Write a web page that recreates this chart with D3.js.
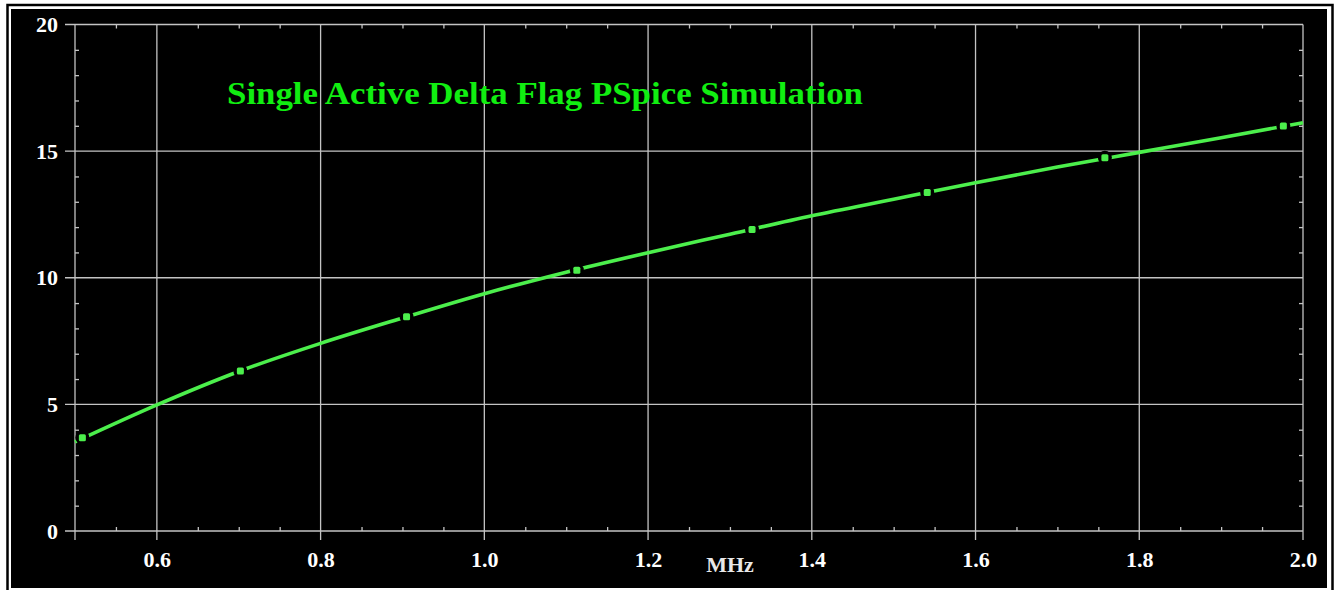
<!DOCTYPE html>
<html>
<head>
<meta charset="utf-8">
<script src="https://cdn.jsdelivr.net/npm/d3@7"></script>
<style>
  body { margin: 0; background: #ffffff; }
  svg text { font-family: "Liberation Serif", "Times New Roman", serif; font-weight: bold; }
</style>
</head>
<body>
<div id="vis1"></div>
<script>
// values
const FREQ_MHZ = [0.5, 0.6, 0.7, 0.8, 0.9, 1.0, 1.1, 1.2, 1.3, 1.4, 1.5, 1.6, 1.7, 1.8, 1.9, 2.0];
const RESPONSE = [3.52, 4.98, 6.30, 7.41, 8.41, 9.37, 10.22, 10.99, 11.72, 12.45, 13.10, 13.75, 14.37, 14.95, 15.53, 16.12];

// plot symbols along the trace
const MARKER_FREQ = [0.509, 0.702, 0.905, 1.113, 1.327, 1.541, 1.758, 1.976];
const MARKER_VAL = [3.68, 6.32, 8.46, 10.30, 11.91, 13.37, 14.74, 15.99];

const X_TICKS = [0.6, 0.8, 1.0, 1.2, 1.4, 1.6, 1.8, 2.0];
const X_TICK_LABELS = ["0.6", "0.8", "1.0", "1.2", "1.4", "1.6", "1.8", "2.0"];
const X_MINOR = d3.range(0.55, 2.0, 0.05).filter(v => Math.abs(v * 5 - Math.round(v * 5)) > 0.01);
const Y_TICKS = [0, 5, 10, 15, 20];
const Y_TICK_LABELS = ["0", "5", "10", "15", "20"];
const Y_MINOR = d3.range(1, 20, 1).filter(v => v % 5 !== 0);

const TITLE = "Single Active Delta Flag PSpice Simulation";
const X_LABEL = "MHz";

const FRAME_WIDTH = 1334;
const FRAME_HEIGHT = 590;
const PLOT = {left: 75, right: 1303, top: 24.5, bottom: 531};
const GRID = "#c4c4c4";
const TRACE = "#4cef4c";

const FRAME1 = d3.select("#vis1")
  .append("svg")
    .attr("width", FRAME_WIDTH)
    .attr("height", FRAME_HEIGHT);

// screenshot border + black panel
FRAME1.append("rect")
  .attr("x", 7.5).attr("y", 5)
  .attr("width", 1325).attr("height", 600)
  .attr("fill", "none").attr("stroke", "#000").attr("stroke-width", 2.5);
FRAME1.append("rect")
  .attr("x", 11).attr("y", 9)
  .attr("width", 1316).attr("height", 579)
  .attr("fill", "#000");

const X_SCALE = d3.scaleLinear().domain([0.5, 2.0]).range([PLOT.left, PLOT.right]);
const Y_SCALE = d3.scaleLinear().domain([0, 20]).range([PLOT.bottom, PLOT.top]);

// grid lines (they poke out past the bottom/left borders)
FRAME1.append("g").selectAll("line")
  .data([0.5].concat(X_TICKS))
  .enter().append("line")
    .attr("x1", d => X_SCALE(d)).attr("x2", d => X_SCALE(d))
    .attr("y1", PLOT.top).attr("y2", PLOT.bottom + 9)
    .attr("stroke", GRID).attr("stroke-width", 1.3);

FRAME1.append("g").selectAll("line")
  .data(Y_TICKS)
  .enter().append("line")
    .attr("x1", PLOT.left - 10).attr("x2", PLOT.right)
    .attr("y1", d => Y_SCALE(d)).attr("y2", d => Y_SCALE(d))
    .attr("stroke", GRID).attr("stroke-width", 1.3);

// minor ticks, all pointing inwards
function minor(axis, tx, ty) {
  const g = FRAME1.append("g")
    .attr("transform", "translate(" + tx + "," + ty + ")")
    .call(axis.tickSize(4).tickFormat(""));
  g.select(".domain").remove();
  g.selectAll(".tick line").attr("stroke", GRID).attr("stroke-width", 1.3);
}
minor(d3.axisTop(X_SCALE).tickValues(X_MINOR), 0, PLOT.bottom);
minor(d3.axisBottom(X_SCALE).tickValues(X_MINOR), 0, PLOT.top);
minor(d3.axisRight(Y_SCALE).tickValues(Y_MINOR), PLOT.left, 0);
minor(d3.axisLeft(Y_SCALE).tickValues(Y_MINOR), PLOT.right, 0);

// tick labels
const xAxis = FRAME1.append("g")
  .attr("transform", "translate(0," + PLOT.bottom + ")")
  .call(d3.axisBottom(X_SCALE).tickValues(X_TICKS).tickSize(0).tickPadding(20)
        .tickFormat((d, i) => X_TICK_LABELS[i]));
xAxis.select(".domain").remove();
xAxis.selectAll("text")
  .attr("fill", "#fff").attr("font-size", "22px")
  .style("font-family", "Liberation Serif").style("font-weight", "bold");

const yAxis = FRAME1.append("g")
  .attr("transform", "translate(" + (PLOT.left - 17) + ",0)")
  .call(d3.axisLeft(Y_SCALE).tickValues(Y_TICKS).tickSize(0).tickPadding(0)
        .tickFormat((d, i) => Y_TICK_LABELS[i]));
yAxis.select(".domain").remove();
yAxis.selectAll("text")
  .attr("fill", "#fff").attr("font-size", "22px")
  .style("font-family", "Liberation Serif").style("font-weight", "bold");

FRAME1.append("text")
  .attr("x", 730).attr("y", 572)
  .attr("text-anchor", "middle")
  .attr("fill", "#e8e8e8").attr("font-size", "22px")
  .text(X_LABEL);

// the trace
const line = d3.line()
  .x((d, i) => X_SCALE(FREQ_MHZ[i]))
  .y(d => Y_SCALE(d))
  .curve(d3.curveMonotoneX);

FRAME1.append("path")
  .datum(RESPONSE)
  .attr("d", line)
  .attr("fill", "none")
  .attr("stroke", TRACE)
  .attr("stroke-width", 3.6);

// small gap in the trace round each symbol, then the symbol
FRAME1.append("g").selectAll("circle")
  .data(MARKER_VAL)
  .enter().append("circle")
    .attr("cx", (d, i) => X_SCALE(MARKER_FREQ[i]))
    .attr("cy", d => Y_SCALE(d))
    .attr("r", 7)
    .attr("fill", "#000");

FRAME1.append("g").selectAll("rect")
  .data(MARKER_VAL)
  .enter().append("rect")
    .attr("x", (d, i) => X_SCALE(MARKER_FREQ[i]) - 3.5)
    .attr("y", d => Y_SCALE(d) - 3.5)
    .attr("width", 7).attr("height", 7)
    .attr("rx", 1.5)
    .attr("fill", TRACE);

FRAME1.append("text")
  .attr("x", 227).attr("y", 104)
  .attr("fill", "#11ee11")
  .attr("font-size", "32px")
  .attr("textLength", 636)
  .attr("lengthAdjust", "spacingAndGlyphs")
  .text(TITLE);
</script>
</body>
</html>
